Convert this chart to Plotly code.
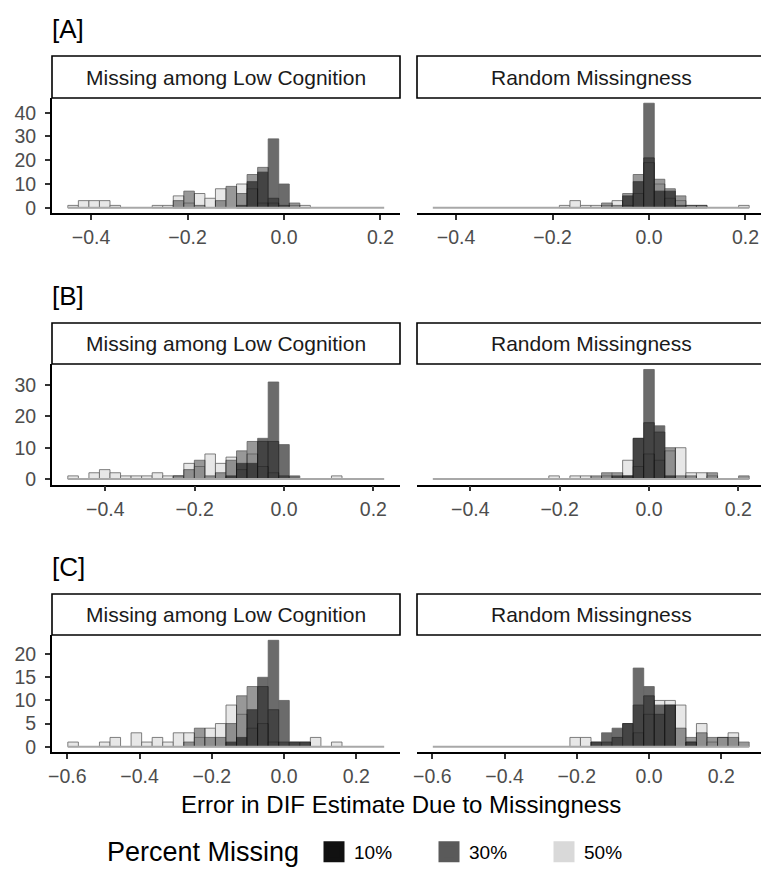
import plotly.graph_objects as go

W, H = 761, 869

# ---------------- data ----------------
bin_index = list(range(-20, 10))          # histogram bins are centred on k * binwidth
binwidth_A = 0.02186
binwidth_B = 0.0236
binwidth_C = 0.0292

series_names = ["10%", "30%", "50%"]
series_colors = ["#111111", "#5a5a5a", "#d9d9d9"]
panel_titles = ["Missing among Low Cognition", "Random Missingness"]
row_labels = ["[A]", "[B]", "[C]"]
x_ticks_AB = [-0.4, -0.2, 0.0, 0.2]
x_ticks_C = [-0.6, -0.4, -0.2, 0.0, 0.2]
y_ticks_A = [0, 10, 20, 30, 40]
y_ticks_B = [0, 10, 20, 30]
y_ticks_C = [0, 5, 10, 15, 20]
x_title = "Error in DIF Estimate Due to Missingness"
legend_title = "Percent Missing"

# counts per bin (k = -20 .. 9)
A_low_10 = [0,0,0,0,0, 0,0,0,0,0, 0,0,0,0,0, 0,1,11,15,29, 10,0,0,0,0, 0,0,0,0,0]
A_low_30 = [0,0,0,0,0, 0,0,0,0,0, 3,7,1,0,3, 9,6,14,17,4, 1,2,0,0,0, 0,0,0,0,0]
A_low_50 = [1,3,3,3,1, 0,0,0,1,1, 5,2,6,4,8, 0,10,8,2,2, 0,1,1,0,0, 0,0,0,0,0]

A_rand_10 = [0,0,0,0,0, 0,0,0,0,0, 0,0,0,0,0, 0,0,0,5,11, 44,7,7,1,0, 0,0,0,0,0]
A_rand_30 = [0,0,0,0,0, 0,0,0,0,0, 0,0,0,0,0, 0,2,1,6,14, 21,12,8,5,1, 1,0,0,0,0]
A_rand_50 = [0,0,0,0,0, 0,0,0,0,0, 0,0,1,3,1, 1,1,3,1,6, 19,10,4,3,1, 1,0,0,0,1]

B_low_10 = [0,0,0,0,0, 0,0,0,0,0, 0,0,0,0,0, 1,5,5,13,31, 11,1,0,0,0, 0,0,0,0,0]
B_low_30 = [0,0,0,0,0, 0,0,0,0,0, 1,3,6,1,2, 6,9,12,12,12, 1,0,0,0,0, 0,0,0,0,0]
B_low_50 = [1,0,2,3,2, 1,1,1,2,1, 1,5,4,8,5, 7,3,8,4,2, 0,0,0,0,0, 1,0,0,0,0]

B_rand_10 = [0,0,0,0,0, 0,0,0,0,0, 0,0,0,0,0, 0,0,1,1,13, 35,17,1,0,0, 0,0,0,0,0]
B_rand_30 = [0,0,0,0,0, 0,0,0,0,0, 0,0,0,0,0, 1,2,2,1,13, 18,15,10,1,1, 0,2,0,0,1]
B_rand_50 = [0,0,0,0,0, 0,0,0,0,0, 0,1,0,1,1, 0,1,0,6,4, 8,6,9,10,2, 2,1,0,0,0]

C_low_10 = [0,0,0,0,0, 0,0,0,0,0, 0,0,0,0,0, 1,2,8,15,23, 10,1,1,0,0, 0,0,0,0,0]
C_low_30 = [0,0,0,0,0, 0,0,0,0,0, 0,1,4,2,2, 5,11,13,13,8, 1,1,1,0,0, 0,0,0,0,0]
C_low_50 = [1,0,0,1,2, 0,3,1,2,1, 3,3,2,4,5, 9,7,4,5,1, 0,0,0,2,0, 1,0,0,0,0]

C_rand_10 = [0,0,0,0,0, 0,0,0,0,0, 0,0,0,0,0, 1,3,4,5,17, 13,9,9,0,1, 0,0,0,0,0]
C_rand_30 = [0,0,0,0,0, 0,0,0,0,0, 0,0,0,0,0, 1,1,2,5,9, 11,7,9,4,2, 3,2,2,2,1]
C_rand_50 = [0,0,0,0,0, 0,0,0,0,0, 0,0,0,2,2, 0,0,0,0,3, 7,10,10,9,1, 5,1,2,3,0]

rows = [
    dict(width=binwidth_A, xt=x_ticks_AB, yt=y_ticks_A,
         panels=[[A_low_10, A_low_30, A_low_50], [A_rand_10, A_rand_30, A_rand_50]]),
    dict(width=binwidth_B, xt=x_ticks_AB, yt=y_ticks_B,
         panels=[[B_low_10, B_low_30, B_low_50], [B_rand_10, B_rand_30, B_rand_50]]),
    dict(width=binwidth_C, xt=x_ticks_C, yt=y_ticks_C,
         panels=[[C_low_10, C_low_30, C_low_50], [C_rand_10, C_rand_30, C_rand_50]]),
]

# ---------------- layout geometry (pixels) ----------------
col_px = [(52, 400), (417, 761)]
row_panel_px = [(98, 213), (364, 484.5), (635, 752)]
row_strip_px = [(56, 98), (323, 364), (594, 635)]
row_label_y = [29, 296, 567]

FONT = "Liberation Sans, Arial, Helvetica, sans-serif"
ALPHA = 0.62
TICK_SIZE = 19.5


def px_x(p):
    return p / W


def px_y(p):
    return 1 - p / H


fig = go.Figure()
layout = dict(width=W, height=H,
              margin=dict(l=0, r=0, t=0, b=0, pad=0, autoexpand=False), autosize=False,
              paper_bgcolor="white", plot_bgcolor="white", barmode="overlay",
              font=dict(family=FONT, color="#1a1a1a"), showlegend=True)
shapes, annotations = [], []

for r, row in enumerate(rows):
    w = row["width"]
    centers = [k * w for k in bin_index]
    lo = (bin_index[0] - 0.5) * w
    hi = (bin_index[-1] + 0.5) * w
    span = hi - lo
    rlo, rhi = lo - 0.05 * span, hi + 0.05 * span
    ymax = max(max(s) for p in row["panels"] for s in p)
    yr = [-0.05 * ymax, 1.05 * ymax]
    py0, py1 = row_panel_px[r]
    left_n = r * 2 + 1
    for c in range(2):
        n = r * 2 + c + 1
        xa = "x" if n == 1 else f"x{n}"
        ya = "y" if n == 1 else f"y{n}"
        cx0, cx1 = col_px[c]
        if c == 0:
            xrange = [rlo, rhi]
        else:
            xrange = [rlo, rlo + (rhi - rlo) * (cx1 - cx0) / (col_px[0][1] - col_px[0][0])]
        layout["xaxis" if n == 1 else f"xaxis{n}"] = dict(
            domain=[px_x(cx0), px_x(cx1)], anchor=ya, range=xrange,
            tickvals=row["xt"], tickformat=".1f", ticks="outside", ticklen=5,
            tickwidth=1.5, tickcolor="#333333", showline=True, linecolor="black",
            linewidth=1.8, showgrid=False, zeroline=False, automargin=False,
            ticklabelstandoff=1,
            tickfont=dict(size=TICK_SIZE, color="#4d4d4d", family=FONT))
        ydict = dict(domain=[px_y(py1), px_y(py0)], anchor=xa, range=yr,
                     showgrid=False, zeroline=False, automargin=False)
        if c == 0:
            ydict.update(tickvals=row["yt"], ticks="outside", ticklen=5, tickwidth=1.5,
                         tickcolor="#333333", showline=True, linecolor="black",
                         linewidth=1.8, ticklabelstandoff=5,
                         tickfont=dict(size=TICK_SIZE, color="#4d4d4d", family=FONT))
        else:
            ydict.update(matches="y" if left_n == 1 else f"y{left_n}",
                         showticklabels=False, ticks="", showline=False)
        layout["yaxis" if n == 1 else f"yaxis{n}"] = ydict

        # baseline of empty bins
        fig.add_trace(go.Scatter(x=[lo, hi], y=[0, 0], mode="lines",
                                 line=dict(color="#a8a8a8", width=2),
                                 xaxis=xa, yaxis=ya, showlegend=False, hoverinfo="skip"))
        # bars: 50% drawn first, 10% on top
        for s in [2, 1, 0]:
            counts = row["panels"][c][s]
            fig.add_trace(go.Bar(
                x=centers, y=[v if v > 0 else None for v in counts], width=w,
                marker=dict(color=series_colors[s], line=dict(color="black", width=0.8)),
                opacity=ALPHA, xaxis=xa, yaxis=ya, showlegend=False,
                name=series_names[s]))

        # strip
        sy0, sy1 = row_strip_px[r]
        shapes.append(dict(type="rect", xref="paper", yref="paper",
                           x0=px_x(cx0), x1=px_x(cx1 + (6 if c == 1 else 0)),
                           y0=px_y(sy1), y1=px_y(sy0),
                           line=dict(color="black", width=1.6), fillcolor="white",
                           layer="below"))
        strip_cx = (cx0 + (col_px[0][1] - col_px[0][0]) / 2) if c == 1 else (cx0 + cx1) / 2
        annotations.append(dict(text=panel_titles[c], xref="paper", yref="paper",
                                x=px_x(strip_cx), y=px_y((sy0 + sy1) / 2),
                                showarrow=False, xanchor="center", yanchor="middle",
                                font=dict(size=21, color="#1a1a1a", family=FONT)))
    annotations.append(dict(text=row_labels[r], xref="paper", yref="paper",
                            x=px_x(50), y=px_y(row_label_y[r]), showarrow=False,
                            xanchor="left", yanchor="middle",
                            font=dict(size=26, color="black", family=FONT)))

annotations.append(dict(text=x_title, xref="paper", yref="paper",
                        x=px_x(401), y=px_y(804), showarrow=False,
                        xanchor="center", yanchor="middle",
                        font=dict(size=24, color="black", family=FONT)))
annotations.append(dict(text=legend_title, xref="paper", yref="paper",
                        x=px_x(301), y=px_y(852), showarrow=False,
                        xanchor="right", yanchor="middle",
                        font=dict(size=27, color="black", family=FONT)))

# legend entries (opaque keys)
for s in range(3):
    fig.add_trace(go.Scatter(x=[None], y=[None], mode="markers", name=series_names[s],
                             marker=dict(symbol="square", size=16, color=series_colors[s],
                                         line=dict(color=series_colors[s], width=5)),
                             xaxis="x", yaxis="y", showlegend=True))

layout["legend"] = dict(orientation="h", x=px_x(314), y=px_y(852), xanchor="left",
                        yanchor="middle",
                        font=dict(size=19, color="black", family=FONT),
                        entrywidth=70, entrywidthmode="pixels",
                        itemsizing="trace", bgcolor="rgba(0,0,0,0)")
layout["shapes"] = shapes
layout["annotations"] = annotations
fig.update_layout(**layout)

fig.write_html("out.html", config={"displayModeBar": False},
               post_script="document.body.style.margin='0';document.body.style.overflow='hidden';")
